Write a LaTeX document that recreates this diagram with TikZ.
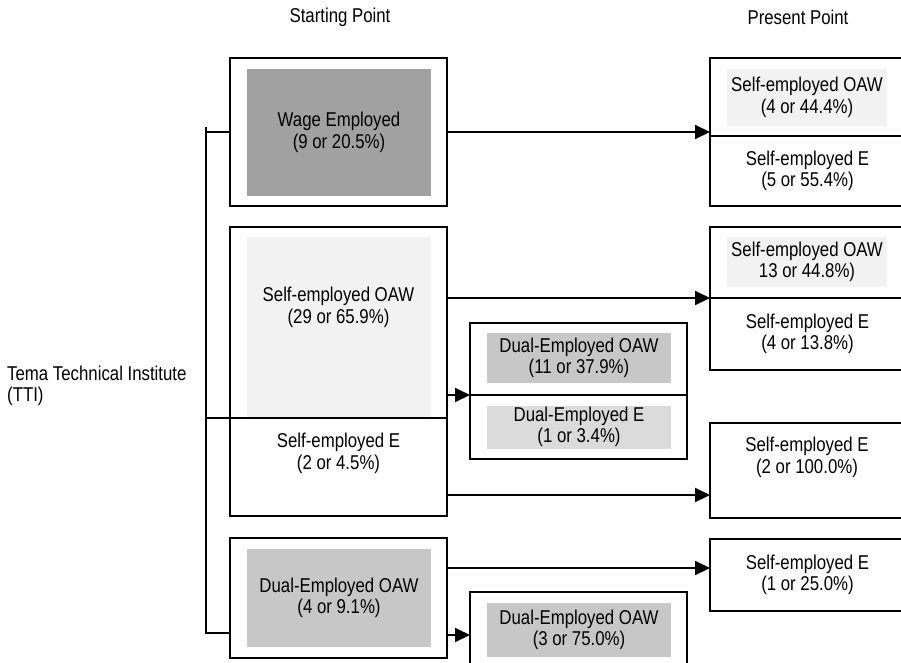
\documentclass[tikz,border=0pt]{standalone}
\usepackage{fontspec}
\setmainfont[FakeStretch=0.84]{Liberation Sans}
\usetikzlibrary{positioning,arrows.meta}

\begin{document}
\begin{tikzpicture}[x=1pt,y=-1pt,>={Triangle[length=15pt,width=14pt]},
  every node/.style={font=\fontsize{20}{21.5}\selectfont, align=center, inner sep=0pt},
  box/.style={draw, line width=2pt, outer sep=0pt, minimum width=217pt},
  rbox/.style={draw, line width=2pt, outer sep=0pt, minimum width=195pt},
  shade/.style={minimum width=184pt},
  rshade/.style={minimum width=160pt},
  link/.style={->, line width=2pt}]

\useasboundingbox (0,0) rectangle (901,663);
\clip (0,0) rectangle (901,663);

% Headings
\node (start) at (340,17) {Starting Point};
\node (present) at (798,17) {Present Point};
\node[anchor=west, align=left] (tti) at (7,386) {Tema Technical Institute\\(TTI)};

% Starting point
\node[box, minimum height=148pt] (wage) at (338.5,132) {};
\node[shade, fill=black!37, minimum height=127pt] (wagein) at (339,132.5) {Wage Employed\\(9 or 20.5\%)};

\node[box, minimum height=191pt] (soaw) at (338.5,322.5) {};
\node[shade, fill=black!5, minimum height=180pt] (soawin) at (339,327) {};
\node (soawtxt) at (338.5,307.5) {Self-employed OAW\\(29 or 65.9\%)};
\node[box, minimum height=98pt, below=0pt of soaw] (sel) {};
\node (seltxt) at (338.5,453.5) {Self-employed E\\(2 or 4.5\%)};

\node[box, minimum height=120pt] (dualL) at (338.5,598) {};
\node[shade, fill=black!22, minimum height=98pt] (dualLin) at (339,598) {Dual-Employed OAW\\(4 or 9.1\%)};

% Dual employed (middle)
\node[box, minimum height=72pt] (dualA) at (578.5,359) {};
\node[shade, fill=black!22, minimum height=50pt] (dualAin) at (579,358) {Dual-Employed OAW\\(11 or 37.9\%)};
\node[box, minimum height=64pt, below=0pt of dualA] (dualB) {};
\node[shade, fill=black!14, minimum height=43pt] (dualBin) at (579,427) {Dual-Employed E\\(1 or 3.4\%)};

\node[box, minimum height=88pt] (dualC) at (578.5,636) {};
\node[shade, fill=black!22, minimum height=54pt] (dualCin) at (579,630) {Dual-Employed OAW\\(3 or 75.0\%)};

% Present point
\node[rbox, minimum height=78pt] (pres1a) at (807.5,97) {};
\node[rshade, fill=black!5, minimum height=57pt] (pres1ain) at (807,97.5) {Self-employed OAW\\(4 or 44.4\%)};
\node[rbox, minimum height=70pt, below=0pt of pres1a] (pres1b) {Self-employed E\\(5 or 55.4\%)};

\node[rbox, minimum height=71pt] (pres2a) at (807.5,262.5) {};
\node[rshade, fill=black!5, minimum height=50pt] (pres2ain) at (807,262) {Self-employed OAW\\13 or 44.8\%)};
\node[rbox, minimum height=72pt, below=0pt of pres2a] (pres2b) {Self-employed E\\(4 or 13.8\%)};

\node[rbox, minimum height=95pt] (pres3) at (807.5,470.5) {};
\node (pres3txt) at (807,457.5) {Self-employed E\\(2 or 100.0\%)};

\node[rbox, minimum height=72pt] (pres4) at (807.5,575) {Self-employed E\\(1 or 25.0\%)};

% Bracket from TTI
\coordinate (root) at (206,127);
\coordinate (dlin) at ([yshift=-35pt]dualL.west);
\draw[line width=2pt] (root) |- (dlin);
\draw[line width=2pt] (root |- wage.west) -- (wage.west);
\draw[line width=2pt] (root |- sel.north west) -- (sel.north west);

% Arrows
\coordinate (selout) at ([yshift=-28pt]sel.east);
\coordinate (dlout) at ([yshift=-37pt]dualL.east);
\coordinate (p4in) at ([yshift=7pt]pres4.west);
\draw[link] (wage.east) -- (wage.east -| pres1a.west);
\draw[link] (soaw.east |- pres2b.north west) -- (pres2b.north west);
\draw[link] (soaw.east |- dualB.north west) -- (dualB.north west);
\draw[link] (selout) -- (selout -| pres3.west);
\draw[link] (p4in -| dualL.east) -- (p4in);
\draw[link] (dlout) -- (dlout -| dualC.west);

\end{tikzpicture}
\end{document}
